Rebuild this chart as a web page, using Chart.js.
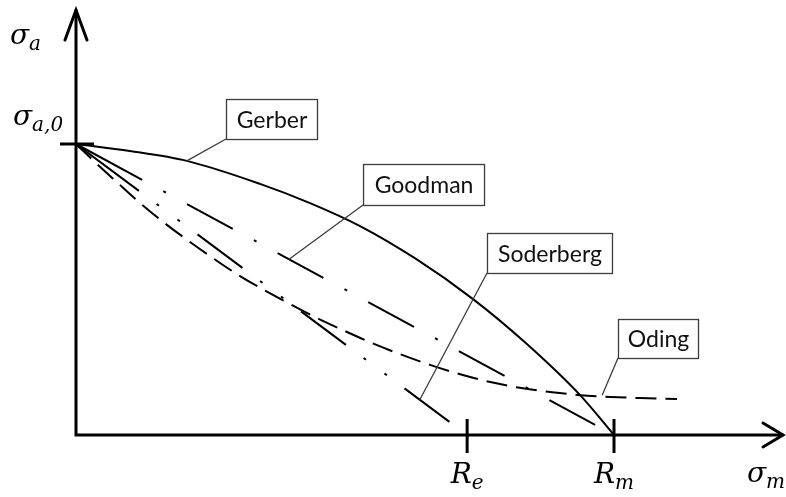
<!DOCTYPE html>
<html>
<head>
<meta charset="utf-8">
<script src="https://cdn.jsdelivr.net/npm/chart.js@4.4.1/dist/chart.umd.min.js"></script>
<style>
  html, body { margin: 0; padding: 0; background: #fff; }
  canvas { display: block; }
</style>
</head>
<body>
<canvas id="haigh" width="786" height="497"></canvas>
<script>
// Haigh diagram: mean stress σm as a fraction of Rm, stress amplitude σa as a fraction of σa,0

// Gerber parabola
const gerberX = [0, 0.100, 0.206, 0.342, 0.435, 0.528, 0.632, 0.738, 0.836, 0.937, 1.0];
const gerberY = [1, 0.976, 0.942, 0.863, 0.797, 0.718, 0.605, 0.467, 0.316, 0.137, 0];

// Goodman straight line (σa,0 to Rm); the middle point ends the solid lead-in
const goodmanX = [0, 0.123, 1.0];
const goodmanY = [1, 0.877, 0];

// Soderberg straight line (σa,0 to Re); the middle point ends the solid lead-in
const soderbergX = [0, 0.117, 0.727];
const soderbergY = [1, 0.839, 0];

// Oding curve
const odingX = [0, 0.045, 0.076, 0.115, 0.160, 0.204, 0.249, 0.299, 0.346, 0.398, 0.448, 0.500,
                0.550, 0.602, 0.658, 0.719, 0.770, 0.825, 0.881, 0.937, 0.993, 1.048, 1.117];
const odingY = [1, 0.921, 0.869, 0.804, 0.735, 0.674, 0.615, 0.553, 0.502, 0.450, 0.402, 0.357,
                0.316, 0.278, 0.241, 0.206, 0.182, 0.162, 0.148, 0.137, 0.131, 0.127, 0.124];

// Marked values on the axes
const xTickValues = [0.727, 1.0];
const xTickNames = [['R', 'e'], ['R', 'm']];
const yTickValue = 1.0;
const yTickName = ['σ', 'a,0'];
const xAxisName = ['σ', 'm'];
const yAxisName = ['σ', 'a'];

// Callout names and the curve point each one points at
const calloutNames = ['Gerber', 'Goodman', 'Soderberg', 'Oding'];
const calloutAnchorX = [0.206, 0.396, 0.639, 0.978];
const calloutAnchorY = [0.942, 0.604, 0.121, 0.137];

const toPoints = (xs, ys) => xs.map((v, i) => ({ x: v, y: ys[i] }));

const goodmanDash = [52, 24, 3, 24];
const soderbergDash = [56, 22, 3, 23, 3, 22];

// Callout box placement (left, top in data units; width, height in px)
const calloutBoxes = [
  { left: 0.2788, top: 1.1546, w: 91, h: 40 },
  { left: 0.5335, top: 0.9313, w: 121, h: 41 },
  { left: 0.7639, top: 0.6942, w: 125, h: 40 },
  { left: 1.0074, top: 0.3986, w: 80, h: 39 }
];

const sketchPlugin = {
  id: 'sketch',
  afterDatasetsDraw(chart) {
    const { ctx, scales: { x, y } } = chart;
    const X = v => x.getPixelForValue(v);
    const Y = v => y.getPixelForValue(v);
    const ox = X(0), oy = Y(0);
    const xEnd = X(x.max), yEnd = Y(y.max);

    ctx.save();
    ctx.strokeStyle = '#000';
    ctx.lineWidth = 3;
    ctx.lineCap = 'square';
    ctx.lineJoin = 'miter';

    // axes
    ctx.beginPath();
    ctx.moveTo(ox, oy); ctx.lineTo(xEnd - 1, oy);
    ctx.moveTo(ox, oy); ctx.lineTo(ox, yEnd + 1);
    ctx.stroke();

    // arrow heads (open chevrons)
    ctx.lineCap = 'round';
    ctx.beginPath();
    ctx.moveTo(ox - 11, yEnd + 30); ctx.lineTo(ox, yEnd); ctx.lineTo(ox + 11, yEnd + 30);
    ctx.moveTo(xEnd - 20, oy - 12); ctx.lineTo(xEnd, oy); ctx.lineTo(xEnd - 20, oy + 12);
    ctx.stroke();

    // ticks
    ctx.lineCap = 'butt';
    ctx.beginPath();
    ctx.moveTo(ox - 16, Y(yTickValue)); ctx.lineTo(ox + 18, Y(yTickValue));
    xTickValues.forEach(v => { ctx.moveTo(X(v), oy - 16); ctx.lineTo(X(v), oy + 18); });
    ctx.stroke();

    // math labels
    const mainFont = 'italic 28px "DejaVu Serif"';
    const subFont = 'italic 20px "DejaVu Serif"';
    ctx.fillStyle = '#000';
    ctx.textBaseline = 'alphabetic';
    const measure = (parts) => {
      ctx.font = mainFont; const a = ctx.measureText(parts[0]).width;
      ctx.font = subFont; const b = ctx.measureText(parts[1]).width;
      return [a, b];
    };
    const drawMath = (parts, left, base) => {
      const [a] = measure(parts);
      ctx.font = mainFont; ctx.textAlign = 'left';
      ctx.fillText(parts[0], left, base);
      ctx.font = subFont;
      ctx.fillText(parts[1], left + a, base + 6);
    };
    xTickValues.forEach((v, i) => {
      const [a, b] = measure(xTickNames[i]);
      drawMath(xTickNames[i], X(v) - (a + b) / 2, oy + 48);
    });
    drawMath(yTickName, ox - 63, Y(yTickValue) - 19);
    drawMath(yAxisName, ox - 66, yEnd + 34);
    drawMath(xAxisName, xEnd - 36, oy + 47);

    // callouts
    ctx.lineWidth = 1.3;
    ctx.strokeStyle = '#3c3c3c';
    ctx.font = '23px Lato';
    ctx.textAlign = 'center';
    ctx.textBaseline = 'middle';
    calloutNames.forEach((name, i) => {
      const b = calloutBoxes[i];
      const bx = X(b.left), by = Y(b.top);
      ctx.beginPath();
      ctx.moveTo(bx, by + b.h);
      ctx.lineTo(X(calloutAnchorX[i]), Y(calloutAnchorY[i]));
      ctx.stroke();
      ctx.fillStyle = '#fff';
      ctx.fillRect(bx, by, b.w, b.h);
      ctx.strokeRect(bx + 0.5, by + 0.5, b.w, b.h);
      ctx.fillStyle = '#111';
      ctx.fillText(name, bx + b.w / 2 + 0.5, by + b.h / 2 + 1.5);
    });
    ctx.restore();
  }
};

const lineBase = {
  showLine: true,
  fill: false,
  pointRadius: 0,
  borderColor: '#000',
  borderWidth: 2,
  borderCapStyle: 'butt'
};

new Chart(document.getElementById('haigh'), {
  type: 'scatter',
  data: {
    datasets: [
      { ...lineBase, label: 'Gerber', data: toPoints(gerberX, gerberY), cubicInterpolationMode: 'monotone' },
      { ...lineBase, label: 'Goodman', data: toPoints(goodmanX, goodmanY),
        segment: {
          borderDash: c => c.p0DataIndex === 0 ? [] : goodmanDash,
          borderDashOffset: c => c.p0DataIndex === 0 ? 0 : goodmanDash[0]
        } },
      { ...lineBase, label: 'Soderberg', data: toPoints(soderbergX, soderbergY),
        segment: {
          borderDash: c => c.p0DataIndex === 0 ? [] : soderbergDash,
          borderDashOffset: c => c.p0DataIndex === 0 ? 0 : soderbergDash[0]
        } },
      { ...lineBase, label: 'Oding', data: toPoints(odingX, odingY), cubicInterpolationMode: 'monotone',
        borderDash: [21, 9] }
    ]
  },
  options: {
    responsive: false,
    animation: false,
    layout: { padding: { left: 76, right: 3, top: 10, bottom: 62 } },
    plugins: { legend: { display: false }, tooltip: { enabled: false } },
    scales: {
      x: { type: 'linear', display: false, min: 0, max: 1.3141 },
      y: { type: 'linear', display: false, min: 0, max: 1.4605 }
    }
  },
  plugins: [sketchPlugin]
});
</script>
</body>
</html>
